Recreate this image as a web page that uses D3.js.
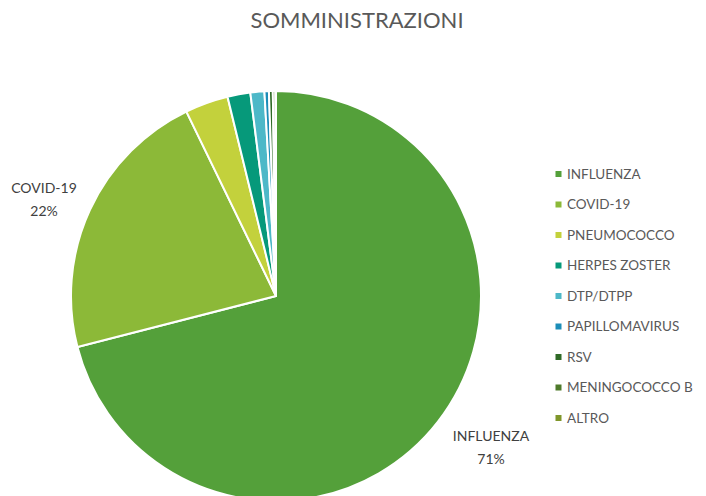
<!DOCTYPE html>
<html><head><meta charset="utf-8">
<script src="https://cdn.jsdelivr.net/npm/d3@7"></script>
<style>body{margin:0;background:#fff;} svg{display:block;font-family:Lato, 'Open Sans', sans-serif;}</style>
</head><body>
<svg id="c" width="706" height="496"></svg>
<script>
const title = "SOMMINISTRAZIONI";
const categories = ["INFLUENZA","COVID-19","PNEUMOCOCCO","HERPES ZOSTER","DTP/DTPP","PAPILLOMAVIRUS","RSV","MENINGOCOCCO B","ALTRO"];
const values = [71.0, 21.8, 3.4, 1.8, 1.1, 0.35, 0.3, 0.2, 0.05];
const colors = ["#54A03A","#8CB938","#C3D13C","#06997A","#4DB8C8","#1C8DB8","#2F6A26","#4E7A2B","#7F962A"];
const labelled = {"INFLUENZA":"71%","COVID-19":"22%"};

const svg = d3.select("#c");
const cx = 276, cy = 296, r = 205;

svg.append("text").attr("x", 357).attr("y", 28).attr("text-anchor","middle")
  .attr("font-size", 22).attr("fill","#595959").text(title);

const color = d3.scaleOrdinal().domain(categories).range(colors);
const pie = d3.pie().sort(null).value(d => d.v);
const data = categories.map((c,i)=>({c, v: values[i]}));
const arcs = pie(data);
const arc = d3.arc().innerRadius(0).outerRadius(r);

const g = svg.append("g").attr("transform", `translate(${cx},${cy})`);
g.selectAll("path").data(arcs).join("path")
  .attr("d", arc).attr("fill", d => color(d.data.c))
  .attr("stroke","#fff").attr("stroke-width",2).attr("stroke-linejoin","round");

// data labels
const labelPos = {"INFLUENZA":[491,436],"COVID-19":[44,188]};
Object.keys(labelled).forEach(k => {
  const [x,y] = labelPos[k];
  const t = svg.append("text").attr("text-anchor","middle").attr("font-size",14).attr("fill","#404040");
  t.append("tspan").attr("x",x).attr("y",y+5).text(k);
  t.append("tspan").attr("x",x).attr("y",y+28).text(labelled[k]);
});

// legend
const ly = d3.scalePoint().domain(categories).range([174, 418]);
const lg = svg.append("g");
categories.forEach(c => {
  lg.append("rect").attr("x",555.5).attr("y",ly(c)-3).attr("width",6).attr("height",6).attr("fill",color(c));
  lg.append("text").attr("x",567).attr("y",ly(c)+4.5).attr("font-size",13.5).attr("fill","#595959").text(c);
});
</script>
</body></html>
